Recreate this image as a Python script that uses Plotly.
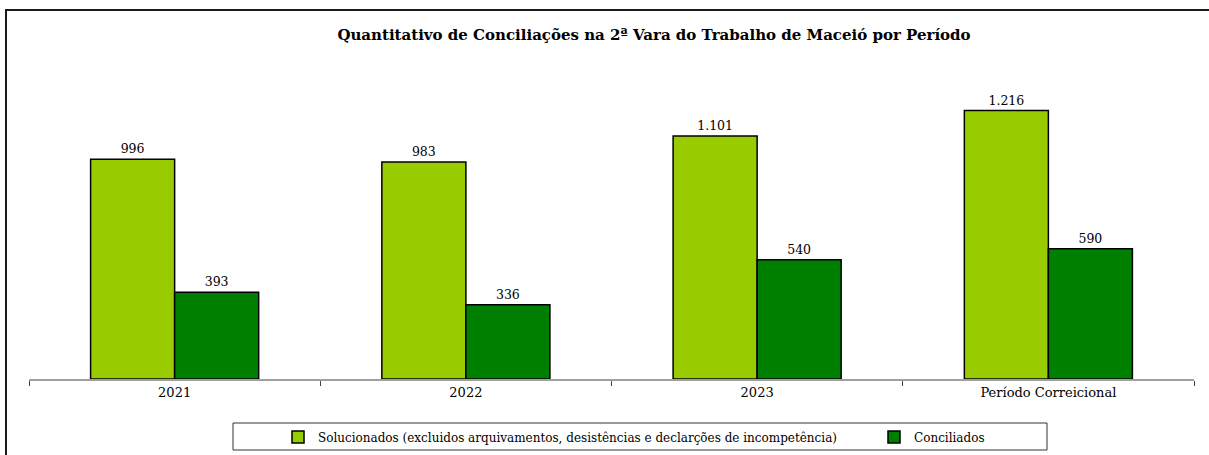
import plotly.graph_objects as go

categorias = ["2021", "2022", "2023", "Período Correicional"]
solucionados = [996, 983, 1101, 1216]
conciliados = [393, 336, 540, 590]
nome_solucionados = "Solucionados (excluidos arquivamentos, desistências e declarções de incompetência)"
nome_conciliados = "Conciliados"
titulo = "Quantitativo de Conciliações na 2ª Vara do Trabalho de Maceió por Período"

W, H = 1209, 455
L, R, T, B = 29, 15, 70, 76
pw, ph = W - L - R, H - T - B

def px(x):
    return (x - L) / pw

def py(y):
    return (H - B - y) / ph

serif = "DejaVu Serif, Liberation Serif, serif"

fig = go.Figure()
fig.add_trace(go.Bar(
    x=categorias, y=solucionados, name=nome_solucionados, legend="legend",
    marker=dict(color="#99CC00", line=dict(color="#000000", width=1.5)),
    texttemplate="%{y:,}", textposition="outside",
    textfont=dict(family=serif, size=12.5, color="#000000"),
    cliponaxis=False,
))
fig.add_trace(go.Bar(
    x=categorias, y=conciliados, name=nome_conciliados, legend="legend2",
    marker=dict(color="#008000", line=dict(color="#000000", width=1.5)),
    texttemplate="%{y:,}", textposition="outside",
    textfont=dict(family=serif, size=12.5, color="#000000"),
    cliponaxis=False,
))

shapes = [
    # outer frame
    dict(type="line", xref="paper", yref="paper", x0=px(5), x1=px(1209), y0=py(10), y1=py(10),
         line=dict(color="#1a1a1a", width=2)),
    dict(type="line", xref="paper", yref="paper", x0=px(6), x1=px(6), y0=py(9), y1=py(455),
         line=dict(color="#1a1a1a", width=2)),
    # legend frame
    dict(type="rect", xref="paper", yref="paper", x0=px(233), x1=px(1047), y0=py(423), y1=py(450),
         line=dict(color="#333333", width=1), fillcolor="rgba(0,0,0,0)"),
]

legend_common = dict(
    orientation="h", xref="container", yref="container", xanchor="left",
    y=(H - 437) / H, yanchor="middle",
    font=dict(family=serif, size=12, color="#000000"), bgcolor="rgba(0,0,0,0)",
    borderwidth=0,
)

fig.update_layout(
    width=W, height=H,
    margin=dict(l=L, r=R, t=T, b=B),
    paper_bgcolor="white", plot_bgcolor="white",
    separators=",.",
    barmode="group", bargap=0.423, bargroupgap=0,
    title=dict(text="<b>" + titulo + "</b>", x=654 / W, xref="container", xanchor="center",
               y=1 - 35 / H, yref="container", yanchor="middle",
               font=dict(family=serif, size=15, color="#000000")),
    xaxis=dict(
        type="category", showline=True, linecolor="#a0a0a0", linewidth=2,
        ticks="outside", tickson="boundaries", ticklen=5, tickcolor="#404040", tickwidth=1,
        tickfont=dict(family=serif, size=13, color="#000000"), showgrid=False,
    ),
    yaxis=dict(range=[0, 1400], visible=False, showgrid=False),
    showlegend=True,
    legend=dict(x=278 / W, **legend_common),
    legend2=dict(x=874 / W, **legend_common),
    shapes=shapes,
)

fig.write_html("out.html", config={"displayModeBar": False},
               post_script="document.body.style.margin='0';")
